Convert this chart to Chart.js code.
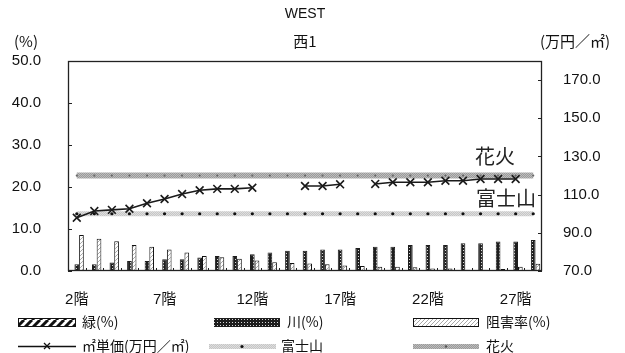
<!DOCTYPE html>
<html><head><meta charset="utf-8">
<script src="https://cdn.jsdelivr.net/npm/chart.js@4/dist/chart.umd.min.js"></script>
<style>html,body{margin:0;padding:0;background:#fff}#wrap{position:relative;width:625px;height:353px}</style>
</head><body><div id="wrap"><canvas id="c" width="625" height="353"></canvas></div>
<script>
// ---- data ----
const floors = ['2階','3階','4階','5階','6階','7階','8階','9階','10階','11階','12階','13階','14階','15階','16階','17階','18階','19階','20階','21階','22階','23階','24階','25階','26階','27階','28階'];
const xTickLabels = ['2階','7階','12階','17階','22階','27階'];
const leftTicks = [0,10,20,30,40,50];
const rightTicks = [70,90,110,130,150,170];
const green = [0,0,0,0,0,0,0,0,0,0,0,0,0,0,0,0,0,0,0,0,0,0,0,0,0,0,0];
const river = [1.6,1.6,2.0,2.4,2.4,2.8,2.8,3.2,3.6,3.6,4.0,4.4,4.8,4.8,5.1,5.1,5.5,5.8,5.8,6.2,6.2,6.2,6.6,6.6,7.0,7.0,7.4];
const blockRate = [8.6,7.7,7.1,6.2,5.8,5.1,4.4,3.6,3.3,2.9,2.5,2.1,1.9,1.8,1.6,1.3,1.2,1.0,1.0,0.9,0.6,0.6,0.3,0.3,0.5,1.0,1.7];
const unitPrice = [97.9,101.4,102.0,102.6,105.5,107.7,110.3,112.3,113.0,113.0,113.6,null,null,114.5,114.5,115.4,null,115.6,116.5,116.5,116.5,117.3,117.3,118.2,118.2,118.2,null];
const fuji = [100,100,100,100,100,100,100,100,100,100,100,100,100,100,100,100,100,100,100,100,100,100,100,100,100,100,100];
const hanabi = [120,120,120,120,120,120,120,120,120,120,120,120,120,120,120,120,120,120,120,120,120,120,120,120,120,120,120];

// ---- patterns ----
function mkPattern(w,h,draw){const c=document.createElement('canvas');c.width=w;c.height=h;const g=c.getContext('2d');draw(g);return g.createPattern(c,'repeat');}
const patRiver = mkPattern(3,3,g=>{g.fillStyle='#1e1e1e';g.fillRect(0,0,3,3);g.fillStyle='#d8d8d8';g.fillRect(1,1,1,1);});
const patBlock = mkPattern(4,4,g=>{g.fillStyle='#fff';g.fillRect(0,0,4,4);g.fillStyle='#a8a8a8';for(let i=0;i<4;i++){g.fillRect(i,3-i,1,1);}});
const patGreen = mkPattern(8,8,g=>{g.fillStyle='#fff';g.fillRect(0,0,8,8);g.strokeStyle='#111';g.lineWidth=3;g.beginPath();for(let o=-8;o<=16;o+=8){g.moveTo(o,8);g.lineTo(o+8,0);}g.stroke();});
const patFuji = mkPattern(2,2,g=>{g.fillStyle='#c6c6c6';g.fillRect(0,0,2,2);g.fillStyle='#dedede';g.fillRect(0,0,1,1);g.fillRect(1,1,1,1);});
const patHanabi = mkPattern(2,2,g=>{g.fillStyle='#9a9a9a';g.fillRect(0,0,2,2);g.fillStyle='#bdbdbd';g.fillRect(0,0,1,1);g.fillRect(1,1,1,1);});

const NUMF = '"Liberation Sans", Arial, "Noto Sans CJK JP", sans-serif';
const JPF = '"Noto Sans CJK JP", sans-serif';

const decor = {
  id:'decor',
  afterDatasetsDraw(chart){
    const ctx=chart.ctx, a=chart.chartArea, xs=chart.scales.x, yl=chart.scales.y, yr=chart.scales.yR;
    ctx.save();
    ctx.strokeStyle='#222';ctx.lineWidth=1.3;
    ctx.strokeRect(a.left+0.5,a.top+0.5,a.right-a.left-1,a.bottom-a.top-1);
    ctx.lineWidth=1;ctx.beginPath();
    leftTicks.forEach(v=>{const y=Math.round(yl.getPixelForValue(v))+0.5;ctx.moveTo(a.left,y);ctx.lineTo(a.left+4,y);});
    rightTicks.forEach(v=>{const y=Math.round(yr.getPixelForValue(v))+0.5;ctx.moveTo(a.right-4,y);ctx.lineTo(a.right,y);});
    for(let i=1;i<floors.length;i++){const x=Math.round((xs.getPixelForTick(i-1)+xs.getPixelForTick(i))/2)+0.5;ctx.moveTo(x,a.bottom);ctx.lineTo(x,a.bottom-3);}
    ctx.stroke();
    // annotations
    ctx.fillStyle='#222';ctx.font='20px '+JPF;ctx.textAlign='left';ctx.textBaseline='middle';
    ctx.fillText('花火',475,yr.getPixelForValue(120)-19);
    ctx.fillText('富士山',476,yr.getPixelForValue(100)-15);
    ctx.restore();
  },
  afterDraw(chart){
    const ctx=chart.ctx;
    ctx.save();
    ctx.fillStyle='#111';ctx.textBaseline='middle';ctx.textAlign='center';
    ctx.font='14px '+NUMF;ctx.fillText('WEST',305,14);
    ctx.font='15px '+JPF;ctx.fillText('西1',305,41);
    ctx.textAlign='left';
    ctx.font='15px '+JPF;
    ctx.fillText('(%)',14,41);
    ctx.fillText('(万円／㎡)',540,41);
    // legend
    const row1=322,row2=346;
    function box(x,w,fill,border){ctx.fillStyle=fill;ctx.fillRect(x,row1-4,w,9);if(border){ctx.strokeStyle='#111';ctx.lineWidth=1;ctx.strokeRect(x+0.5,row1-3.5,w-1,8);}}
    box(18,58,patGreen,true);
    box(214,66,patRiver,false);
    box(413,66,patBlock,true);
    ctx.fillStyle='#111';ctx.font='14px '+JPF;
    ctx.fillText('緑(%)',82,row1);
    ctx.fillText('川(%)',287,row1);
    ctx.fillText('阻害率(%)',486,row1);
    // row2
    ctx.strokeStyle='#111';ctx.lineWidth=1.3;ctx.beginPath();ctx.moveTo(18,row2+0.5);ctx.lineTo(76,row2+0.5);ctx.stroke();
    ctx.beginPath();ctx.moveTo(44,row2-3);ctx.lineTo(50,row2+3);ctx.moveTo(50,row2-3);ctx.lineTo(44,row2+3);ctx.stroke();
    ctx.fillStyle=patFuji;ctx.fillRect(209,row2-2,67,5);
    ctx.fillStyle='#111';ctx.beginPath();ctx.arc(242,row2+0.5,1.6,0,Math.PI*2);ctx.fill();
    ctx.fillStyle=patHanabi;ctx.fillRect(413,row2-2,66,5);
    ctx.fillStyle='#555';ctx.beginPath();ctx.arc(446,row2+0.5,1.2,0,Math.PI*2);ctx.fill();
    ctx.fillStyle='#111';
    ctx.fillText('㎡単価(万円／㎡)',82,row2);
    ctx.fillText('富士山',281,row2);
    ctx.fillText('花火',486,row2);
    ctx.restore();
  }
};

new Chart(document.getElementById('c'),{
  type:'bar',
  data:{labels:floors,datasets:[
    {type:'line',label:'㎡単価(万円/㎡)',data:unitPrice,yAxisID:'yR',order:0,borderColor:'#1a1a1a',borderWidth:1.6,pointStyle:'crossRot',pointRadius:5.5,pointBorderWidth:1.6,pointBorderColor:'#1a1a1a',spanGaps:false,tension:0,fill:false},
    {type:'line',label:'富士山',data:fuji,yAxisID:'yR',order:1,borderColor:patFuji,borderWidth:5,borderCapStyle:'butt',pointRadius:1.6,pointBackgroundColor:'#111',pointBorderWidth:0,fill:false},
    {type:'line',label:'花火',data:hanabi,yAxisID:'yR',order:1,borderColor:patHanabi,borderWidth:6,borderCapStyle:'butt',pointRadius:1.1,pointBackgroundColor:'#666',pointBorderWidth:0,fill:false},
    {label:'緑(%)',data:green,yAxisID:'y',order:2,backgroundColor:patGreen,borderColor:'#111',borderWidth:0,categoryPercentage:0.8,barPercentage:1.0},
    {label:'川(%)',data:river,yAxisID:'y',order:2,backgroundColor:patRiver,borderColor:'#1e1e1e',borderWidth:1,categoryPercentage:0.8,barPercentage:1.0},
    {label:'阻害率(%)',data:blockRate,yAxisID:'y',order:2,backgroundColor:patBlock,borderColor:'#111',borderWidth:1,categoryPercentage:0.8,barPercentage:1.0}
  ]},
  options:{
    responsive:false,animation:false,devicePixelRatio:1,
    layout:{padding:{top:61,left:0,right:0,bottom:0}},
    plugins:{legend:{display:false},tooltip:{enabled:false},title:{display:false}},
    scales:{
      x:{offset:true,grid:{display:false},border:{display:false},
        ticks:{autoSkip:false,maxRotation:0,minRotation:0,padding:12,color:'#111',font:{family:NUMF,size:15},
          callback:function(v,i){const l=floors[i];return xTickLabels.includes(l)?l:'';}},
        afterFit:s=>{s.height=82;}},
      y:{position:'left',min:0,max:50,grid:{display:false},border:{display:false},
        afterBuildTicks:s=>{s.ticks=leftTicks.map(v=>({value:v}));},
        ticks:{padding:19,color:'#111',font:{family:NUMF,size:15},callback:v=>Number(v).toFixed(1)},
        afterFit:s=>{s.width=68;}},
      yR:{position:'right',min:70,max:180,grid:{display:false},border:{display:false},
        afterBuildTicks:s=>{s.ticks=rightTicks.map(v=>({value:v}));},
        ticks:{padding:13,color:'#111',font:{family:NUMF,size:15},callback:v=>Number(v).toFixed(1)},
        afterFit:s=>{s.width=83;}}
    }
  },
  plugins:[decor]
});
</script></body></html>
